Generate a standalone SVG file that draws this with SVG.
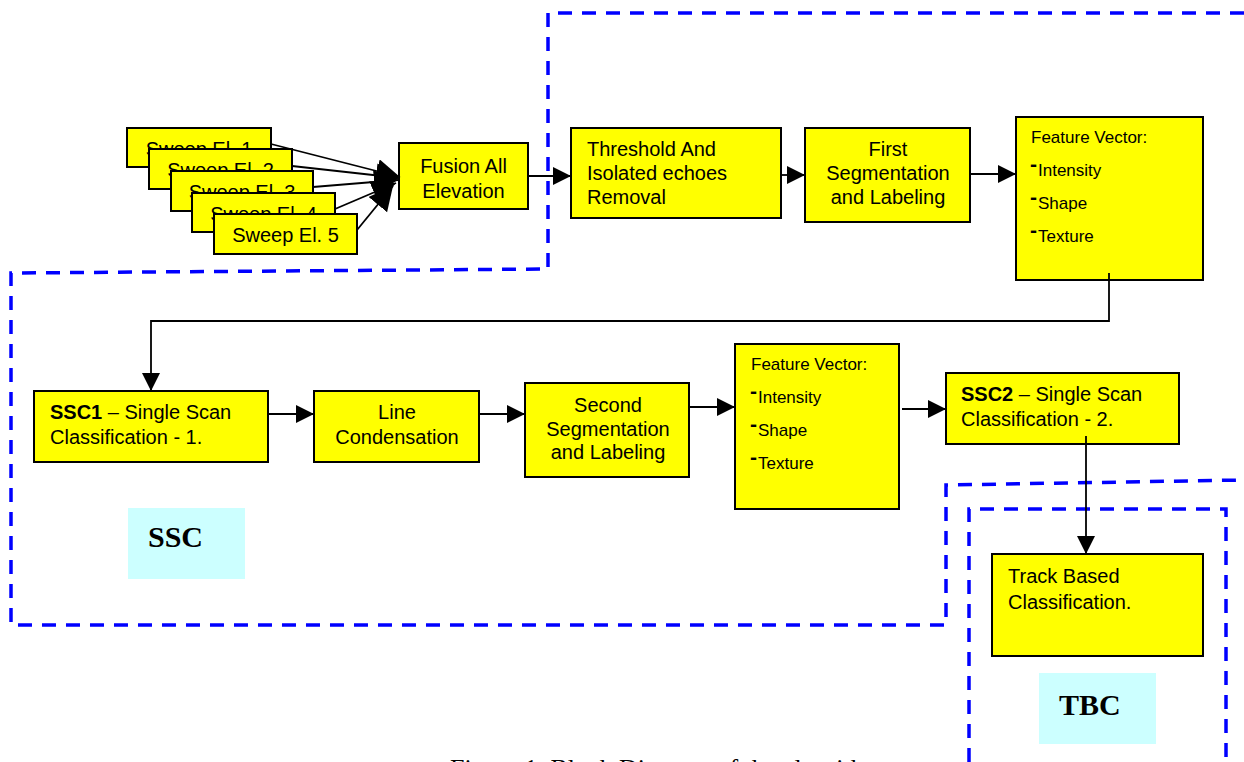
<svg xmlns="http://www.w3.org/2000/svg" width="1244" height="762" viewBox="0 0 1244 762">
<defs>
<style>
.box{fill:#FFFF00;stroke:#000;stroke-width:2}
.lbl{fill:#CCFFFF}
.t{font-family:"Liberation Sans",Arial,sans-serif;font-size:20px;fill:#000}
.c{text-anchor:middle}
.fv{font-family:"Liberation Sans",Arial,sans-serif;font-size:17px;fill:#000}
.d{font-weight:bold;font-size:21px}
.big{font-family:"Liberation Serif","Times New Roman",serif;font-size:30px;font-weight:bold;fill:#000}
.cap{font-family:"Liberation Serif","Times New Roman",serif;font-size:26px;fill:#000}
.conn{fill:none;stroke:#000;stroke-width:1.8}
.dash{fill:none;stroke:#0000FF;stroke-width:3.5;stroke-dasharray:14 10}
</style>
<marker id="ah" markerUnits="userSpaceOnUse" markerWidth="20" markerHeight="20" refX="18" refY="9" orient="auto" viewBox="0 0 20 20">
<path d="M0,0 L18,9 L0,18 z" fill="#000"/>
</marker>
<marker id="ahb" markerUnits="userSpaceOnUse" markerWidth="26" markerHeight="26" refX="24" refY="12" orient="auto" viewBox="0 0 26 26">
<path d="M0,0 L24,12 L0,24 z" fill="#000"/>
</marker>
</defs>
<rect width="1244" height="762" fill="#fff"/>

<g id="regions">
<path class="dash" d="M1244,13 H548 V269 L11,273 V625 H946 V485 L1244,480"/>
<path class="dash" d="M969,762 V509 H1226 V762"/>
</g>

<g id="sweep1"><rect class="box" x="127" y="128" width="144" height="39"/><text class="t c" x="199" y="156">Sweep El. 1</text></g>
<g id="sweep2"><rect class="box" x="149" y="149" width="143" height="40"/><text class="t c" x="220.5" y="177">Sweep El. 2</text></g>
<g id="sweep3"><rect class="box" x="171" y="171" width="142" height="40"/><text class="t c" x="242" y="199">Sweep El. 3</text></g>
<g id="sweep4"><rect class="box" x="192" y="193" width="143" height="39"/><text class="t c" x="263.5" y="221">Sweep El. 4</text></g>
<g id="sweep5"><rect class="box" x="214" y="214" width="143" height="40"/><text class="t c" x="285.5" y="242">Sweep El. 5</text></g>

<g id="fusion"><rect class="box" x="399" y="143" width="129" height="66"/><text class="t c" x="463.5" y="173">Fusion All</text><text class="t c" x="463.5" y="198">Elevation</text></g>

<g id="threshold"><rect class="box" x="571" y="128" width="210" height="90"/>
<text class="t" x="587" y="156">Threshold And</text><text class="t" x="587" y="180">Isolated echoes</text><text class="t" x="587" y="204">Removal</text></g>

<g id="firstseg"><rect class="box" x="805" y="128" width="165" height="94"/>
<text class="t c" x="888" y="156">First</text><text class="t c" x="888" y="180">Segmentation</text><text class="t c" x="888" y="204">and Labeling</text></g>

<g id="fv1"><rect class="box" x="1016" y="117" width="187" height="163"/>
<text class="fv" x="1031" y="143">Feature Vector:</text>
<text class="fv" x="1030" y="176"><tspan class="d" dy="-5">-</tspan><tspan dy="5" dx="1">Intensity</tspan></text>
<text class="fv" x="1030" y="209"><tspan class="d" dy="-5">-</tspan><tspan dy="5" dx="1">Shape</tspan></text>
<text class="fv" x="1030" y="242"><tspan class="d" dy="-5">-</tspan><tspan dy="5" dx="1">Texture</tspan></text></g>

<g id="ssc1"><rect class="box" x="34" y="391" width="234" height="71"/>
<text class="t" x="50" y="419"><tspan font-weight="bold">SSC1</tspan> – Single Scan</text><text class="t" x="50" y="444">Classification - 1.</text></g>

<g id="linecond"><rect class="box" x="314" y="391" width="165" height="71"/>
<text class="t c" x="397" y="419">Line</text><text class="t c" x="397" y="444">Condensation</text></g>

<g id="secondseg"><rect class="box" x="525" y="383" width="164" height="94"/>
<text class="t c" x="608" y="412">Second</text><text class="t c" x="608" y="436">Segmentation</text><text class="t c" x="608" y="459">and Labeling</text></g>

<g id="fv2"><rect class="box" x="735" y="344" width="164" height="165"/>
<text class="fv" x="751" y="370">Feature Vector:</text>
<text class="fv" x="750" y="403"><tspan class="d" dy="-5">-</tspan><tspan dy="5" dx="1">Intensity</tspan></text>
<text class="fv" x="750" y="436"><tspan class="d" dy="-5">-</tspan><tspan dy="5" dx="1">Shape</tspan></text>
<text class="fv" x="750" y="469"><tspan class="d" dy="-5">-</tspan><tspan dy="5" dx="1">Texture</tspan></text></g>

<g id="ssc2"><rect class="box" x="946" y="373" width="233" height="71"/>
<text class="t" x="961" y="401"><tspan font-weight="bold">SSC2</tspan> – Single Scan</text><text class="t" x="961" y="426">Classification - 2.</text></g>

<g id="track"><rect class="box" x="992" y="554" width="211" height="102"/>
<text class="t" x="1008" y="583">Track Based</text><text class="t" x="1008" y="609">Classification.</text></g>

<g id="ssc-label"><rect class="lbl" x="128" y="508" width="117" height="71"/><text class="big" x="148" y="547">SSC</text></g>
<g id="tbc-label"><rect class="lbl" x="1039" y="673" width="117" height="71"/><text class="big" x="1059" y="715">TBC</text></g>

<g id="connectors">
<line class="conn" x1="271" y1="144" x2="400" y2="177" marker-end="url(#ahb)"/>
<line class="conn" x1="292" y1="166" x2="400" y2="178" marker-end="url(#ahb)"/>
<line class="conn" x1="313" y1="187" x2="398" y2="180" marker-end="url(#ahb)"/>
<line class="conn" x1="335" y1="209" x2="396" y2="183" marker-end="url(#ahb)"/>
<line class="conn" x1="357" y1="230" x2="393" y2="186" marker-end="url(#ahb)"/>
<line class="conn" x1="528" y1="176" x2="571" y2="176" marker-end="url(#ah)"/>
<line class="conn" x1="781" y1="175" x2="805" y2="175" marker-end="url(#ah)"/>
<line class="conn" x1="970" y1="174" x2="1016" y2="174" marker-end="url(#ah)"/>
<path class="conn" d="M1109,273 V321 H151 V391" marker-end="url(#ah)"/>
<line class="conn" x1="268" y1="414" x2="314" y2="414" marker-end="url(#ah)"/>
<line class="conn" x1="479" y1="414" x2="525" y2="414" marker-end="url(#ah)"/>
<line class="conn" x1="689" y1="407" x2="735" y2="407" marker-end="url(#ah)"/>
<line class="conn" x1="902" y1="409" x2="946" y2="409" marker-end="url(#ah)"/>
<line class="conn" x1="1086" y1="436" x2="1086" y2="554" marker-end="url(#ah)"/>
</g>

<text class="cap" x="450" y="777">Figure 1. Block Diagram of the algorithm</text>
</svg>
